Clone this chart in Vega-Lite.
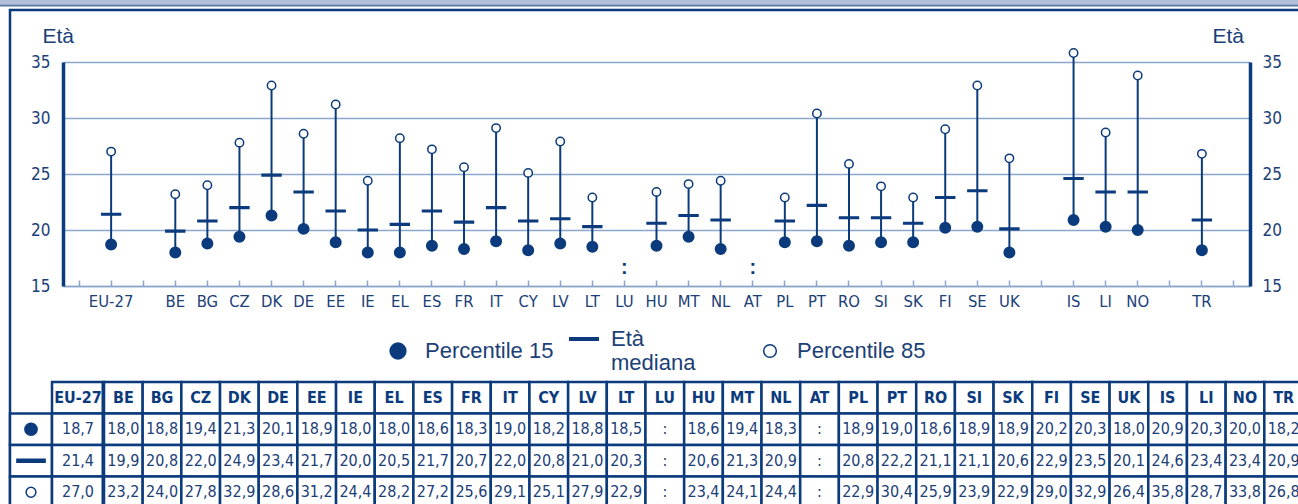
{
  "$schema": "https://vega.github.io/schema/vega-lite/v6.json",
  "width": 1187,
  "height": 224,
  "padding": {"left": 63, "top": 62, "right": 48, "bottom": 218},
  "autosize": {"type": "none"},
  "background": "white",
  "config": {
    "view": {"stroke": null},
    "locale": {"number": {"decimal": ",", "thousands": ".", "grouping": [3], "currency": ["", " €"]}}
  },
  "datasets": {
    "stats": [
      {"country": "EU-27", "p15": 18.7, "med": 21.4, "p85": 27.0},
      {"country": "BE", "p15": 18.0, "med": 19.9, "p85": 23.2},
      {"country": "BG", "p15": 18.8, "med": 20.8, "p85": 24.0},
      {"country": "CZ", "p15": 19.4, "med": 22.0, "p85": 27.8},
      {"country": "DK", "p15": 21.3, "med": 24.9, "p85": 32.9},
      {"country": "DE", "p15": 20.1, "med": 23.4, "p85": 28.6},
      {"country": "EE", "p15": 18.9, "med": 21.7, "p85": 31.2},
      {"country": "IE", "p15": 18.0, "med": 20.0, "p85": 24.4},
      {"country": "EL", "p15": 18.0, "med": 20.5, "p85": 28.2},
      {"country": "ES", "p15": 18.6, "med": 21.7, "p85": 27.2},
      {"country": "FR", "p15": 18.3, "med": 20.7, "p85": 25.6},
      {"country": "IT", "p15": 19.0, "med": 22.0, "p85": 29.1},
      {"country": "CY", "p15": 18.2, "med": 20.8, "p85": 25.1},
      {"country": "LV", "p15": 18.8, "med": 21.0, "p85": 27.9},
      {"country": "LT", "p15": 18.5, "med": 20.3, "p85": 22.9},
      {"country": "LU", "p15": null, "med": null, "p85": null},
      {"country": "HU", "p15": 18.6, "med": 20.6, "p85": 23.4},
      {"country": "MT", "p15": 19.4, "med": 21.3, "p85": 24.1},
      {"country": "NL", "p15": 18.3, "med": 20.9, "p85": 24.4},
      {"country": "AT", "p15": null, "med": null, "p85": null},
      {"country": "PL", "p15": 18.9, "med": 20.8, "p85": 22.9},
      {"country": "PT", "p15": 19.0, "med": 22.2, "p85": 30.4},
      {"country": "RO", "p15": 18.6, "med": 21.1, "p85": 25.9},
      {"country": "SI", "p15": 18.9, "med": 21.1, "p85": 23.9},
      {"country": "SK", "p15": 18.9, "med": 20.6, "p85": 22.9},
      {"country": "FI", "p15": 20.2, "med": 22.9, "p85": 29.0},
      {"country": "SE", "p15": 20.3, "med": 23.5, "p85": 32.9},
      {"country": "UK", "p15": 18.0, "med": 20.1, "p85": 26.4},
      {"country": "IS", "p15": 20.9, "med": 24.6, "p85": 35.8},
      {"country": "LI", "p15": 20.3, "med": 23.4, "p85": 28.7},
      {"country": "NO", "p15": 20.0, "med": 23.4, "p85": 33.8},
      {"country": "TR", "p15": 18.2, "med": 20.9, "p85": 26.8}
    ]
  },
  "resolve": {"scale": {"x": "independent", "y": "independent", "shape": "independent", "fill": "independent", "stroke": "independent"}},
  "layer": [
    {
      "data": {"values": [{"k": 1}]},
      "mark": {"type": "rect", "fill": "#b4bfdc"},
      "encoding": {
        "x": {"datum": 0, "type": "quantitative", "scale": {"domain": [0, 1], "range": [-70, 1300]}, "axis": null},
        "x2": {"datum": 1},
        "y": {"datum": 0, "type": "quantitative", "scale": {"domain": [0, 1], "range": [-62, -57.5]}, "axis": null},
        "y2": {"datum": 1}
      }
    },
    {
      "data": {"values": [{"k": 1}]},
      "mark": {"type": "rect", "fill": "#5b78a8"},
      "encoding": {
        "x": {"datum": 0, "type": "quantitative", "scale": {"domain": [0, 1], "range": [-70, 1300]}, "axis": null},
        "x2": {"datum": 1},
        "y": {"datum": 0, "type": "quantitative", "scale": {"domain": [0, 1], "range": [-57.5, -55.5]}, "axis": null},
        "y2": {"datum": 1}
      }
    },
    {
      "data": {"values": [{"k": 1}]},
      "mark": {"type": "rect", "filled": false, "stroke": "#0b3b7c", "strokeWidth": 2.5},
      "encoding": {
        "x": {"datum": 0, "type": "quantitative", "scale": {"domain": [0, 1], "range": [-53, 1300]}, "axis": null},
        "x2": {"datum": 1},
        "y": {"datum": 0, "type": "quantitative", "scale": {"domain": [0, 1], "range": [-52, 470]}, "axis": null},
        "y2": {"datum": 1}
      }
    },
    {
      "data": {"name": "stats"},
      "resolve": {"axis": {"y": "independent"}},
      "layer": [
        {
          "transform": [{"filter": "datum.p15 != null"}],
          "mark": {"type": "rule", "color": "#0b3b7c", "strokeWidth": 2},
          "encoding": {
            "x": {
              "field": "country", "type": "nominal",
              "scale": {"domain": ["s0","EU-27","s1","BE","BG","CZ","DK","DE","EE","IE","EL","ES","FR","IT","CY","LV","LT","LU","HU","MT","NL","AT","PL","PT","RO","SI","SK","FI","SE","UK","s2","IS","LI","NO","s3","TR","s4"], "paddingInner": 0, "paddingOuter": 0},
              "axis": {"orient": "bottom", "title": null, "labelExpr": "test(/^s[0-9]$/, datum.label) ? '' : datum.label", "labelAngle": 0, "labelFont": "DejaVu Sans Condensed, Liberation Sans, sans-serif", "labelFontSize": 16.5, "labelColor": "#1b4077", "labelPadding": 13, "domainColor": "#8da6cc", "domainWidth": 1.5, "tickColor": "#8da6cc", "tickWidth": 1.5, "tickSize": -6, "grid": false}
            },
            "y": {
              "field": "p15", "type": "quantitative",
              "scale": {"domain": [15, 35], "nice": false, "zero": false},
              "axis": {"orient": "left", "values": [15, 20, 25, 30, 35], "grid": true, "gridColor": "#8da6cc", "gridWidth": 1.5, "domainColor": "#0b3b7c", "domainWidth": 3.5, "ticks": false, "labelPadding": 13, "labelFont": "DejaVu Sans Condensed, Liberation Sans, sans-serif", "labelFontSize": 17, "labelColor": "#1b4077", "title": "Età", "titleAngle": 0, "titleAlign": "left", "titleBaseline": "alphabetic", "titleX": -21, "titleY": -20, "titleFont": "Liberation Sans", "titleFontSize": 21, "titleFontWeight": "normal", "titleColor": "#1b4077"}
            },
            "y2": {"field": "p85"}
          }
        },
        {
          "transform": [{"filter": "datum.p15 != null"}, {"fold": ["p15", "med", "p85"], "as": ["stat", "value"]}],
          "mark": {"type": "point", "filled": true, "strokeWidth": 1.5, "size": 110, "opacity": 1},
          "encoding": {
            "x": {"field": "country", "type": "nominal"},
            "y": {
              "field": "value", "type": "quantitative",
              "axis": {"orient": "right", "values": [15, 20, 25, 30, 35], "grid": false, "domainColor": "#0b3b7c", "domainWidth": 3.5, "ticks": false, "labelPadding": 12, "labelFont": "DejaVu Sans Condensed, Liberation Sans, sans-serif", "labelFontSize": 17, "labelColor": "#1b4077", "title": "Età", "titleAngle": 0, "titleAlign": "left", "titleBaseline": "alphabetic", "titleX": -38, "titleY": -20, "titleFont": "Liberation Sans", "titleFontSize": 21, "titleFontWeight": "normal", "titleColor": "#1b4077"}
            },
            "shape": {
              "field": "stat", "type": "nominal",
              "scale": {"domain": ["p15", "med", "p85"], "range": ["circle", "M-1.8,-0.15H1.8V0.15H-1.8Z", "M0.8,0A0.8,0.8,0,1,1,-0.8,0A0.8,0.8,0,1,1,0.8,0Z"]},
              "legend": {"title": null, "orient": "none", "direction": "horizontal", "gridAlign": "all", "legendX": 324, "legendY": 266, "labelExpr": "datum.label == 'p15' ? 'Percentile 15' : datum.label == 'med' ? ['Età', 'mediana'] : 'Percentile 85'", "labelFont": "Liberation Sans", "labelFontSize": 22, "labelColor": "#1b4077", "labelOffset": 16, "columnPadding": 12, "symbolSize": 250, "symbolStrokeWidth": 1.5, "labelLimit": 300}
            },
            "fill": {
              "field": "stat", "type": "nominal",
              "scale": {"domain": ["p15", "med", "p85"], "range": ["#0b3b7c", "#0b3b7c", "#ffffff"]},
              "legend": {"title": null, "orient": "none", "direction": "horizontal", "gridAlign": "all", "legendX": 324, "legendY": 266, "labelExpr": "datum.label == 'p15' ? 'Percentile 15' : datum.label == 'med' ? ['Età', 'mediana'] : 'Percentile 85'", "labelFont": "Liberation Sans", "labelFontSize": 22, "labelColor": "#1b4077", "labelOffset": 16, "columnPadding": 12, "symbolSize": 250, "symbolStrokeWidth": 1.5, "labelLimit": 300}
            },
            "stroke": {
              "field": "stat", "type": "nominal",
              "scale": {"domain": ["p15", "med", "p85"], "range": ["#0b3b7c", "#0b3b7c", "#0b3b7c"]},
              "legend": {"title": null, "orient": "none", "direction": "horizontal", "gridAlign": "all", "legendX": 324, "legendY": 266, "labelExpr": "datum.label == 'p15' ? 'Percentile 15' : datum.label == 'med' ? ['Età', 'mediana'] : 'Percentile 85'", "labelFont": "Liberation Sans", "labelFontSize": 22, "labelColor": "#1b4077", "labelOffset": 16, "columnPadding": 12, "symbolSize": 250, "symbolStrokeWidth": 1.5, "labelLimit": 300}
            }
          }
        },
        {
          "transform": [{"filter": "datum.p15 == null"}],
          "mark": {"type": "text", "text": ":", "fontSize": 20, "fontWeight": "bold", "color": "#0b3b7c", "font": "Liberation Sans", "baseline": "middle"},
          "encoding": {
            "x": {"field": "country", "type": "nominal"},
            "y": {"datum": 16.6, "type": "quantitative", "axis": null}
          }
        }
      ]
    },
    {
      "data": {"name": "stats"},
      "transform": [{"filter": "datum.country == 'EU-27'"}, {"fold": ["p15", "med", "p85"], "as": ["row", "value"]}],
      "layer": [
        {
          "mark": {"type": "rect", "fill": "white", "stroke": "#0b3b7c", "strokeWidth": 2.5},
          "encoding": {
            "x": {"datum": "sym", "type": "nominal", "scale": {"domain": ["sym"], "range": [-53, -11], "paddingInner": 0, "paddingOuter": 0}, "axis": null},
            "y": {"field": "row", "type": "nominal", "scale": {"domain": ["head", "p15", "med", "p85", "end"], "range": [320, 477.5], "paddingInner": 0, "paddingOuter": 0}, "axis": null}
          }
        },
        {
          "mark": {"type": "point", "filled": true, "stroke": "#0b3b7c", "strokeWidth": 1.5, "size": 150, "opacity": 1},
          "encoding": {
            "x": {"datum": "sym", "type": "nominal"},
            "y": {"field": "row", "type": "nominal"},
            "shape": {"field": "row", "type": "nominal", "scale": {"domain": ["p15", "med", "p85"], "range": ["circle", "M-2.3,-0.25H2.3V0.25H-2.3Z", "M0.8,0A0.8,0.8,0,1,1,-0.8,0A0.8,0.8,0,1,1,0.8,0Z"]}, "legend": null},
            "fill": {"field": "row", "type": "nominal", "scale": {"domain": ["p15", "med", "p85"], "range": ["#0b3b7c", "#0b3b7c", "#ffffff"]}, "legend": null}
          }
        }
      ]
    },
    {
      "data": {"name": "stats"},
      "transform": [{"filter": "datum.country == 'EU-27'"}],
      "layer": [
        {
          "mark": {"type": "rect", "fill": "white", "stroke": "#0b3b7c", "strokeWidth": 2.5},
          "encoding": {
            "x": {"field": "country", "type": "nominal", "scale": {"domain": ["EU-27"], "range": [-11, 41], "paddingInner": 0, "paddingOuter": 0}, "axis": null},
            "y": {"datum": "head", "type": "nominal", "scale": {"domain": ["head", "p15", "med", "p85", "end"], "range": [320, 477.5], "paddingInner": 0, "paddingOuter": 0}, "axis": null}
          }
        },
        {
          "mark": {"type": "text", "font": "DejaVu Sans Condensed, Liberation Sans, sans-serif", "fontSize": 16, "fontWeight": "bold", "color": "#0b3b7c", "baseline": "middle", "align": "center"},
          "encoding": {
            "x": {"field": "country", "type": "nominal"},
            "y": {"datum": "head", "type": "nominal"},
            "text": {"field": "country"}
          }
        },
        {
          "transform": [{"fold": ["p15", "med", "p85"], "as": ["row", "value"]}],
          "mark": {"type": "rect", "fill": "white", "stroke": "#0b3b7c", "strokeWidth": 2.5},
          "encoding": {
            "x": {"field": "country", "type": "nominal"},
            "y": {"field": "row", "type": "nominal"}
          }
        },
        {
          "transform": [{"fold": ["p15", "med", "p85"], "as": ["row", "value"]}],
          "mark": {"type": "text", "font": "DejaVu Sans Condensed, Liberation Sans, sans-serif", "fontSize": 16, "color": "#1b4077", "baseline": "middle", "align": "center"},
          "encoding": {
            "x": {"field": "country", "type": "nominal"},
            "y": {"field": "row", "type": "nominal"},
            "text": {"condition": {"test": "datum.value === null", "value": ":"}, "field": "value", "type": "quantitative", "format": ".1f"}
          }
        },
        {
          "mark": {"type": "rule", "color": "#0b3b7c", "strokeWidth": 5},
          "encoding": {
            "x": {"datum": "EU-27", "type": "nominal", "bandPosition": 1},
            "y": {"datum": "head", "type": "nominal", "bandPosition": 0},
            "y2": {"datum": "end"}
          }
        }
      ]
    },
    {
      "data": {"name": "stats"},
      "transform": [{"filter": "datum.country != 'EU-27'"}],
      "layer": [
        {
          "mark": {"type": "rect", "fill": "white", "stroke": "#0b3b7c", "strokeWidth": 2.5},
          "encoding": {
            "x": {"field": "country", "type": "nominal", "scale": {"domain": ["BE","BG","CZ","DK","DE","EE","IE","EL","ES","FR","IT","CY","LV","LT","LU","HU","MT","NL","AT","PL","PT","RO","SI","SK","FI","SE","UK","IS","LI","NO","TR"], "range": [41, 1240], "paddingInner": 0, "paddingOuter": 0}, "axis": null},
            "y": {"datum": "head", "type": "nominal", "scale": {"domain": ["head", "p15", "med", "p85", "end"], "range": [320, 477.5], "paddingInner": 0, "paddingOuter": 0}, "axis": null}
          }
        },
        {
          "mark": {"type": "text", "font": "DejaVu Sans Condensed, Liberation Sans, sans-serif", "fontSize": 16, "fontWeight": "bold", "color": "#0b3b7c", "baseline": "middle", "align": "center"},
          "encoding": {
            "x": {"field": "country", "type": "nominal"},
            "y": {"datum": "head", "type": "nominal"},
            "text": {"field": "country"}
          }
        },
        {
          "transform": [{"fold": ["p15", "med", "p85"], "as": ["row", "value"]}],
          "mark": {"type": "rect", "fill": "white", "stroke": "#0b3b7c", "strokeWidth": 2.5},
          "encoding": {
            "x": {"field": "country", "type": "nominal"},
            "y": {"field": "row", "type": "nominal"}
          }
        },
        {
          "transform": [{"fold": ["p15", "med", "p85"], "as": ["row", "value"]}],
          "mark": {"type": "text", "font": "DejaVu Sans Condensed, Liberation Sans, sans-serif", "fontSize": 16, "color": "#1b4077", "baseline": "middle", "align": "center"},
          "encoding": {
            "x": {"field": "country", "type": "nominal"},
            "y": {"field": "row", "type": "nominal"},
            "text": {"condition": {"test": "datum.value === null", "value": ":"}, "field": "value", "type": "quantitative", "format": ".1f"}
          }
        }
      ]
    }
  ]
}
